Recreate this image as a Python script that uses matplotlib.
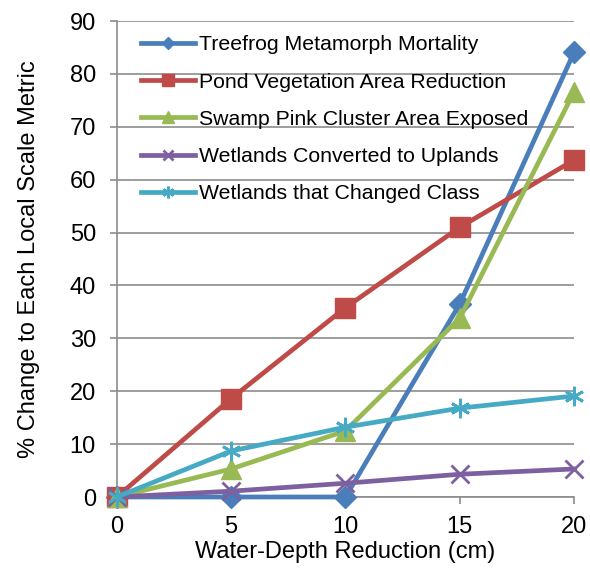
import matplotlib.pyplot as plt

plt.rcParams['font.family'] = ['Liberation Sans', 'DejaVu Sans']

depth = [0, 5, 10, 15, 20]
treefrog = [0, 0, 0, 36.5, 84.1]
pond_veg = [0, 18.6, 35.8, 51.0, 63.7]
swamp_pink = [0, 5.3, 12.5, 33.8, 76.6]
converted = [0, 1.1, 2.6, 4.3, 5.3]
changed = [0, 8.7, 13.2, 16.8, 19.1]

series = [
    ("Treefrog Metamorph Mortality", treefrog, '#4A7EBB', 'D', 11),
    ("Pond Vegetation Area Reduction", pond_veg, '#BE4B48', 's', 14),
    ("Swamp Pink Cluster Area Exposed", swamp_pink, '#98B954', '^', 14),
    ("Wetlands Converted to Uplands", converted, '#7D60A0', 'x', 13),
    ("Wetlands that Changed Class", changed, '#46AAC5', (6, 2, 0), 14),
]

fig = plt.figure(figsize=(5.9, 5.68), dpi=100)
ax = fig.add_axes([0.198, 0.125, 0.775, 0.838])

for label, vals, color, marker, ms in series:
    ax.plot(depth, vals, color=color, lw=3.4, marker=marker, ms=ms,
            mew=2 if marker in ('x', (6, 2, 0)) else 1, mec=color, mfc=color,
            label=label, clip_on=False, zorder=3)

ax.set_xlim(0, 20)
ax.set_ylim(0, 90)
ax.set_xticks(depth)
ax.set_yticks(range(0, 91, 10))
ax.yaxis.grid(True, color='#8c8c8c', lw=1.2)
ax.set_axisbelow(True)
for side in ('top', 'right'):
    ax.spines[side].set_visible(False)
for side in ('left', 'bottom'):
    ax.spines[side].set_color('#8c8c8c')
    ax.spines[side].set_linewidth(1.2)
ax.tick_params(axis='both', colors='#8c8c8c', labelcolor='black',
               labelsize=17, width=1.2, length=5)
ax.tick_params(axis='x', pad=9)
ax.tick_params(axis='y', pad=10)

ax.set_xlabel('Water-Depth Reduction (cm)', fontsize=17, labelpad=2)
ax.set_ylabel('% Change to Each Local Scale Metric', fontsize=17, labelpad=21)

ax.legend(loc='upper left', bbox_to_anchor=(0.012, 1.01), frameon=False,
          fontsize=15.3, handlelength=2.5, markerscale=0.6,
          labelspacing=0.86, handletextpad=0.2)

fig.savefig('out.png', dpi=100)
